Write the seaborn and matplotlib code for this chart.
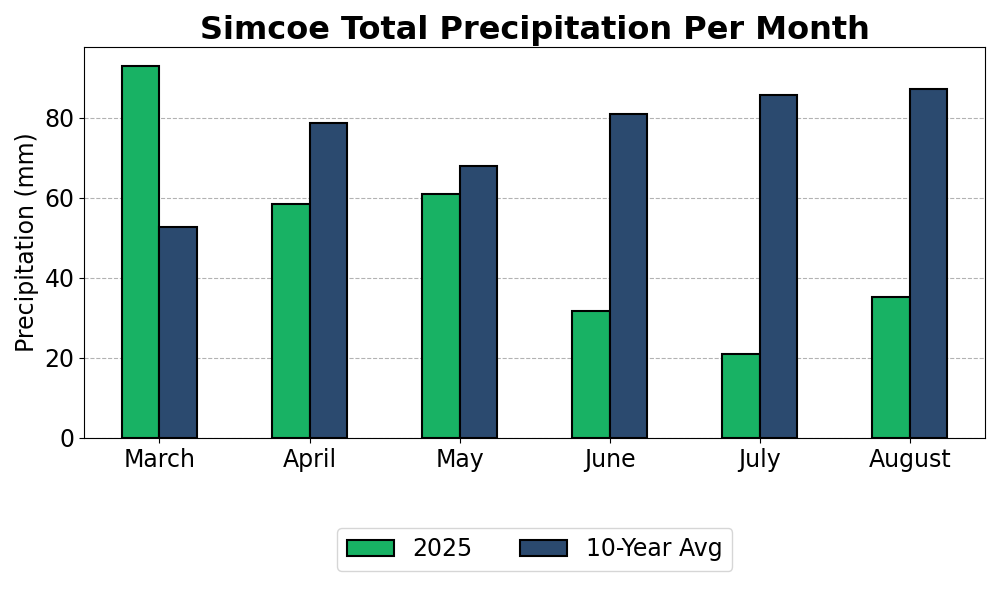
import pandas as pd
import seaborn as sns
import matplotlib.pyplot as plt

# Monthly precipitation values (mm)
months = ["March", "April", "May", "June", "July", "August"]
precip_2025 = [92.9, 58.3, 60.8, 31.6, 20.9, 35.1]
precip_avg = [52.6, 78.7, 67.8, 80.9, 85.7, 87.1]

df = pd.DataFrame({
    "Month": months * 2,
    "Precipitation": precip_2025 + precip_avg,
    "Series": ["2025"] * len(months) + ["10-Year Avg"] * len(months),
})

colors = {"2025": "#18b264", "10-Year Avg": "#2b4a6f"}

plt.figure(figsize=(10, 6))
ax = sns.barplot(
    data=df,
    x="Month",
    y="Precipitation",
    hue="Series",
    palette=colors,
    width=0.5,
    edgecolor="black",
    linewidth=1.5,
    saturation=1,
    errorbar=None,
)
ax.set_title("Simcoe Total Precipitation Per Month", fontsize=23, fontweight="bold")
ax.set_xlabel("")
ax.set_ylabel("Precipitation (mm)", fontsize=17)
ax.tick_params(axis="both", labelsize=17)
ax.yaxis.grid(True, linestyle="--", color="gray", alpha=0.6)
ax.set_axisbelow(True)
ax.legend(
    loc="upper center",
    bbox_to_anchor=(0.5, -0.2),
    ncol=2,
    fontsize=17,
)
plt.tight_layout()
plt.savefig("out.png", dpi=100)
